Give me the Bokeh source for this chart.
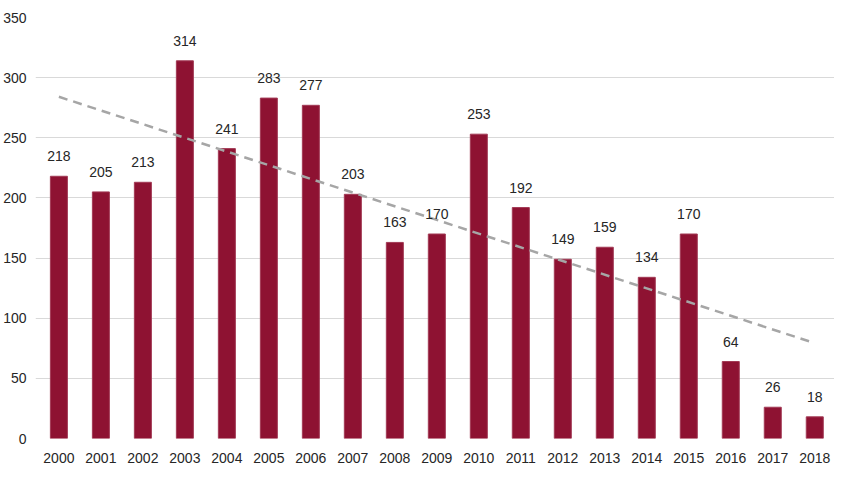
import numpy as np
from bokeh.plotting import figure
from bokeh.models import Range1d, FixedTicker, ColumnDataSource, LabelSet
from bokeh.core.properties import value
from bokeh.embed import file_html
from bokeh.resources import INLINE

years = ["2000", "2001", "2002", "2003", "2004", "2005", "2006", "2007", "2008", "2009",
         "2010", "2011", "2012", "2013", "2014", "2015", "2016", "2017", "2018"]
counts = [218, 205, 213, 314, 241, 283, 277, 203, 163, 170,
          253, 192, 149, 159, 134, 170, 64, 26, 18]
y_ticks = [0, 50, 100, 150, 200, 250, 300, 350]

idx = list(range(len(years)))
src = ColumnDataSource(data=dict(x=idx, top=counts, label=[str(c) for c in counts]))

# linear trend line from the data (least squares)
slope, intercept = np.polyfit(idx, counts, 1)
tx = [idx[0], idx[-1]]
ty = [intercept + slope * v for v in tx]

p = figure(width=834, height=473, output_backend="svg", toolbar_location=None,
           x_range=Range1d(-0.557, 18.47), y_range=Range1d(0, 350),
           min_border_left=29, min_border_right=0, min_border_top=17, min_border_bottom=35)
p.outline_line_color = None
p.background_fill_color = "white"
p.border_fill_color = "white"

p.vbar(x="x", top="top", width=0.405, source=src, fill_color="#8E1232",
       line_color="#A23A55", line_width=1)
p.line(tx, ty, line_color="#A6A6A6", line_width=2.5, line_dash="9 6")

labels = LabelSet(x="x", y="top", text="label", source=src, text_align="center",
                  text_baseline="bottom", y_offset=15, text_font=value("Liberation Sans"),
                  text_font_size="14px", text_color="#262626")
p.add_layout(labels)

p.xaxis.ticker = FixedTicker(ticks=idx)
p.xaxis.major_label_overrides = {i: y for i, y in enumerate(years)}
p.yaxis.ticker = FixedTicker(ticks=y_ticks)
for ax in (p.xaxis, p.yaxis):
    ax.axis_line_color = None
    ax.major_tick_line_color = None
    ax.minor_tick_line_color = None
    ax.major_tick_out = 0
    ax.major_tick_in = 0
    ax.major_label_text_font = "Liberation Sans"
    ax.major_label_text_font_size = "14px"
    ax.major_label_text_color = "#262626"
p.xaxis.major_label_standoff = 14
p.yaxis.major_label_standoff = 9

p.xgrid.grid_line_color = None
p.ygrid.grid_line_color = "#D9D9D9"
p.ygrid.grid_line_width = 1

open("out.html", "w").write(file_html(p, INLINE))
